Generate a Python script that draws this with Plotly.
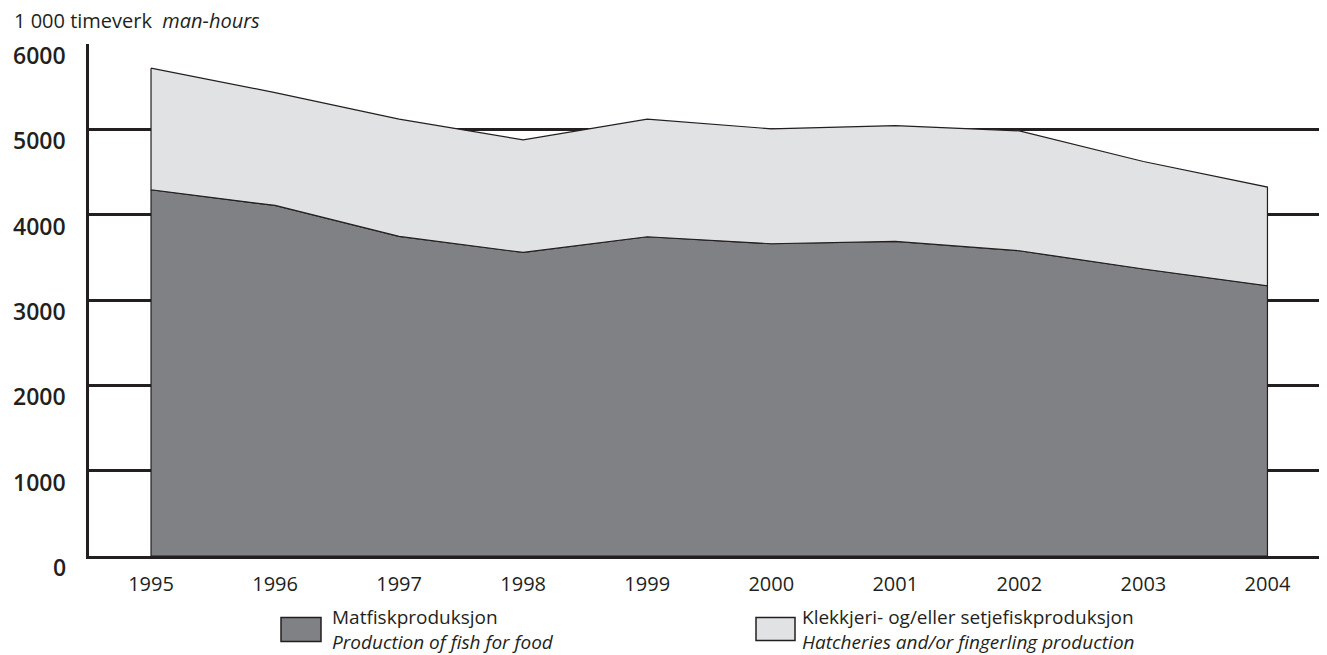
import plotly.graph_objects as go

# ---- data (1 000 man-hours) ----
years = [1995, 1996, 1997, 1998, 1999, 2000, 2001, 2002, 2003, 2004]
food = [4292, 4108, 3745, 3557, 3741, 3659, 3686, 3577, 3363, 3167]
hatcheries = [1425, 1323, 1374, 1320, 1378, 1347, 1358, 1405, 1260, 1156]
y_ticks = [0, 1000, 2000, 3000, 4000, 5000, 6000]
x_ticks = years

title_no = "1 000 timeverk"
title_en = "man-hours"
leg_food = ("Matfiskproduksjon", "Production of fish for food")
leg_hatch = ("Klekkjeri- og/eller setjefiskproduksjon", "Hatcheries and/or fingerling production")

DARK = "#231f20"
C_FOOD = "#808184"
C_HATCH = "#e1e2e4"
FONT = "Open Sans"

# page body has an 8px margin: figure is placed at (8, 8) in the window
OFF = 8
W, H = 1327 - OFF, 655 - OFF
ML, MR, MT, MB = 89 - OFF, 0, 44 - OFF, 655 - 556.5
PW, PH = W - ML - MR, H - MT - MB


def px(x):
    return (x - OFF - ML) / PW


def py(y):
    return (H - MB - (y - OFF)) / PH


total = [f + h for f, h in zip(food, hatcheries)]

fig = go.Figure()
# food area: closed polygon down to zero
fig.add_trace(go.Scatter(
    x=years + [years[-1], years[0], years[0]],
    y=food + [0, 0, food[0]],
    fill="toself", fillcolor=C_FOOD, mode="lines",
    line=dict(color=DARK, width=1.2), hoverinfo="skip", showlegend=False))
# hatcheries area: stacked on top
fig.add_trace(go.Scatter(
    x=years + years[::-1] + [years[0]],
    y=total + food[::-1] + [total[0]],
    fill="toself", fillcolor=C_HATCH, mode="lines",
    line=dict(color=DARK, width=1.2), hoverinfo="skip", showlegend=False))

fig.update_xaxes(
    range=[1994.5, 2004.48], tickvals=x_ticks, ticktext=[str(v) for v in x_ticks],
    showgrid=False, zeroline=False, showline=True, linecolor=DARK, linewidth=2.5,
    ticks="", ticklabelstandoff=8,
    tickfont=dict(family=FONT, size=20, color=DARK))
fig.update_yaxes(
    range=[0, 6000], tickvals=y_ticks, showticklabels=False,
    showgrid=True, gridcolor=DARK, gridwidth=2.5, zeroline=False,
    showline=True, linecolor=DARK, linewidth=2.5, ticks="")

annotations = []
for v in y_ticks:
    annotations.append(dict(
        x=0, xref="paper", y=v, yref="y", text=str(v), showarrow=False,
        xanchor="right", yanchor="middle", xshift=-21, yshift=-11,
        font=dict(family=FONT, size=23, color=DARK, weight=600)))

annotations.append(dict(
    x=px(12), xref="paper", y=py(20), yref="paper",
    text=title_no + "\u00a0\u00a0<i>" + title_en + "</i>", showarrow=False,
    xanchor="left", yanchor="middle",
    font=dict(family=FONT, size=20, color=DARK)))

shapes = []
legend_items = [
    (281, 321, 618, 642, C_FOOD, 330, leg_food),
    (756, 795, 618, 641, C_HATCH, 800, leg_hatch),
]
for x0, x1, y0, y1, col, tx, (l1, l2) in legend_items:
    shapes.append(dict(type="rect", xref="paper", yref="paper",
                       x0=px(x0), x1=px(x1), y0=py(y1), y1=py(y0),
                       fillcolor=col, line=dict(color=DARK, width=1.5)))
    annotations.append(dict(
        x=px(tx), xref="paper", y=py(630.5), yref="paper",
        text=l1 + "<br><i>" + l2 + "</i>", align="left",
        showarrow=False, xanchor="left", yanchor="middle",
        font=dict(family=FONT, size=19, color=DARK)))

fig.update_layout(
    width=W, height=H, margin=dict(l=ML, r=MR, t=MT, b=MB),
    paper_bgcolor="white", plot_bgcolor="white",
    showlegend=False, annotations=annotations, shapes=shapes)

fig.write_html("out.html")
